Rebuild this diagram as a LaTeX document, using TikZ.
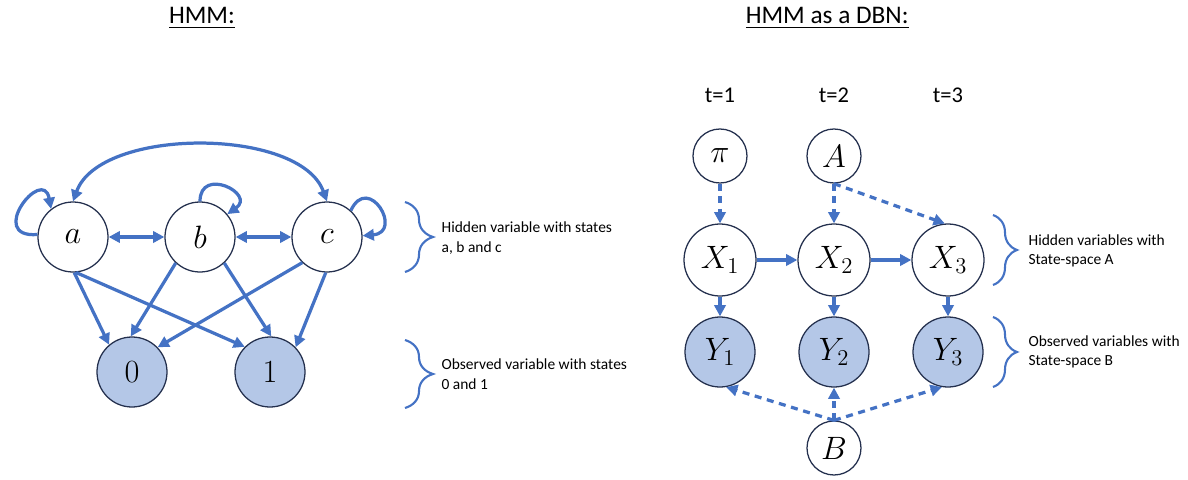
\documentclass[tikz,border=0pt]{standalone}
\usepackage{fix-cm}
\usepackage{fontspec}
\setmainfont{Carlito}
\usepackage{amsmath}
\usepackage{tikz}
\usetikzlibrary{arrows.meta,calc,decorations.pathreplacing,positioning}
\definecolor{hmmblue}{RGB}{68,114,196}
\definecolor{obsfill}{RGB}{180,199,231}
\definecolor{ringcol}{RGB}{36,48,78}
\tikzset{HMM style/.style={>={Triangle[length=8pt,width=8pt]},line width=2.3pt},
	var/.style={circle,draw=ringcol,line width=0.9pt,minimum size=1.75cm,inner sep=0,font=\fontsize{23}{25}\selectfont},
	hid/.style={var,fill=white},
	obs/.style={var,fill=obsfill},
	prm/.style={var,fill=white,minimum size=1.35cm},
	arr/.style={draw=hmmblue,->},
	darr/.style={draw=hmmblue,->,dash pattern=on 5pt off 4pt},
	brc/.style={draw=hmmblue,line width=1.5pt,decorate},
	sidetext/.style={anchor=west,align=left,inner sep=0,font=\fontsize{11}{14}\selectfont},
	ttl/.style={font=\fontsize{18}{20}\selectfont,inner sep=0}}

\begin{document}
\begin{tikzpicture}[HMM style]
	\useasboundingbox (0,0) rectangle (29.7,-11.975);

	% titles
	\node [ttl] (tl) at (5.05,-0.45) {\underline{HMM:}};
	\node [ttl] (tr) at (20.68,-0.45) {\underline{HMM as a DBN:}};

	% HMM: hidden states and observed states
	\node [hid] (a) at (1.825,-5.925) {$a$};
	\node [hid] (b) at (5,-5.925) {$b$};
	\node [hid] (c) at (8.175,-5.925) {$c$};
	\node [obs] (obs0) at (3.3,-9.3) {$0$};
	\node [obs] (obs1) at (6.75,-9.3) {$1$};

	\draw [arr] (a.176) .. controls +(-1.3,-0.1) and +(-0.2,1.1) .. (a.128);
	\draw [arr] (b.90) to[out=90,in=35,looseness=3] (b.40);
	\draw [arr] (c.48) to[out=65,in=5,looseness=3.8] (c.2);
	\draw [arr,<->] (a.north) to[out=70,in=110,looseness=0.8] (c.north);
	\draw [arr,<->] (a) -- (b);
	\draw [arr,<->] (b) -- (c);

	\draw [arr] (a.-88) -- (obs0.130);
	\draw [arr] (a.-85) -- (obs1.135);
	\draw [arr] (b.-133) -- (obs0.92);
	\draw [arr] (b.-47) -- (obs1.88);
	\draw [arr] (c.-134) -- (obs0.44);
	\draw [arr] (c.-92) -- (obs1.44);

	\draw [brc,decoration={brace,amplitude=0.7cm}] (10.125,-5.05) -- (10.125,-6.8);
	\draw [brc,decoration={brace,amplitude=0.7cm}] (10.125,-8.5) -- (10.125,-10.2);
	\node [sidetext] (hidtxt) at (11,-5.95) {Hidden variable with states\\a, b and c};
	\node [sidetext] (obstxt) at (11,-9.35) {Observed variable with states\\0 and 1};

	% DBN: time slices
	\node [ttl,font=\fontsize{16}{18}\selectfont] (t1) at (18,-2.375) {t=1};
	\node [ttl,font=\fontsize{16}{18}\selectfont] (t2) at (20.85,-2.375) {t=2};
	\node [ttl,font=\fontsize{16}{18}\selectfont] (t3) at (23.7,-2.375) {t=3};

	\node [prm] (pi) at (18,-3.9) {$\pi$};
	\node [prm] (A) at (20.85,-3.9) {$A$};
	\node [hid,minimum size=1.8cm] (X1) at (18,-6.5) {$X_1$};
	\node [hid,minimum size=1.8cm] (X2) at (20.85,-6.5) {$X_2$};
	\node [hid,minimum size=1.8cm] (X3) at (23.7,-6.5) {$X_3$};
	\node [obs] (Y1) at (18,-8.8) {$Y_1$};
	\node [obs] (Y2) at (20.85,-8.8) {$Y_2$};
	\node [obs] (Y3) at (23.7,-8.8) {$Y_3$};
	\node [prm] (B) at (20.85,-11.2) {$B$};

	\draw [darr] (pi) -- (X1);
	\draw [darr] (A.south) -- (X2.north);
	\draw [darr] (A.south) -- (X3.95);
	\draw [arr] (X1) -- (X2);
	\draw [arr] (X2) -- (X3);
	\draw [arr] (X1) -- (Y1);
	\draw [arr] (X2) -- (Y2);
	\draw [arr] (X3) -- (Y3);
	\draw [darr] (B.north) -- (Y1.-80);
	\draw [darr] (B.north) -- (Y2.south);
	\draw [darr] (B.north) -- (Y3.-100);

	\draw [brc,decoration={brace,amplitude=0.6cm}] (24.825,-5.375) -- (24.825,-7.125);
	\draw [brc,decoration={brace,amplitude=0.6cm}] (24.825,-7.925) -- (24.825,-9.675);
	\node [sidetext] (hidtxt2) at (25.675,-6.275) {Hidden variables with\\State-space A};
	\node [sidetext] (obstxt2) at (25.675,-8.8) {Observed variables with\\State-space B};
\end{tikzpicture}
\end{document}
